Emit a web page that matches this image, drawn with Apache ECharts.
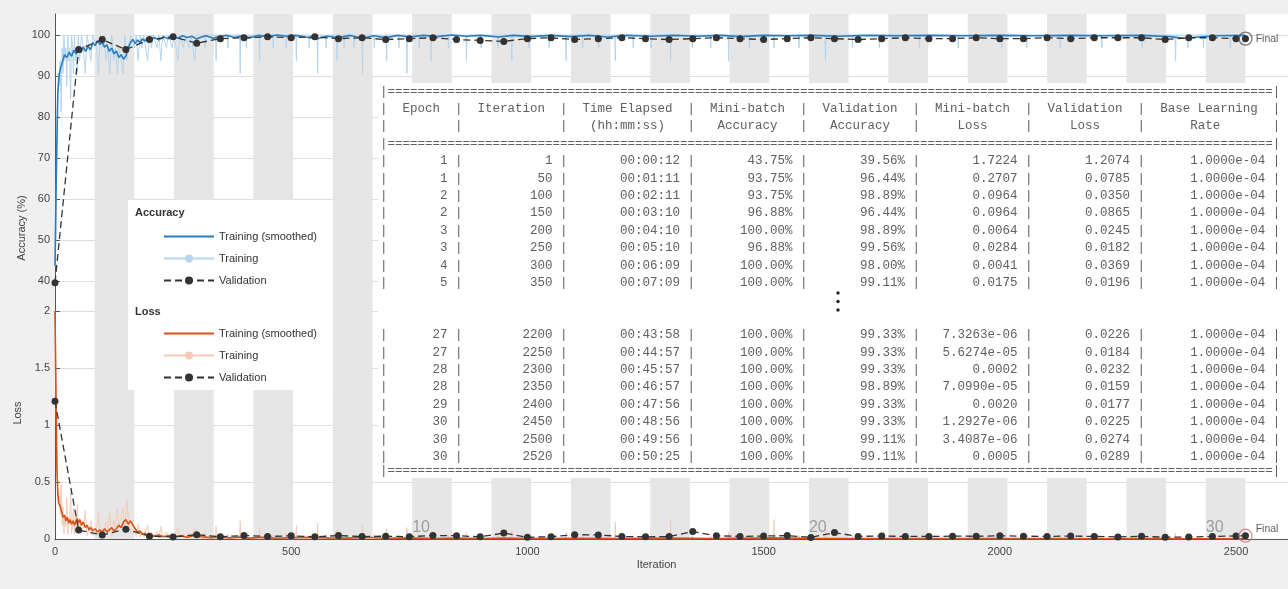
<!DOCTYPE html>
<html>
<head>
<meta charset="utf-8">
<title>Training Progress</title>
<script src="https://cdn.jsdelivr.net/npm/echarts@6/dist/echarts.min.js"></script>
<style>
  html, body { margin: 0; padding: 0; background: #f0f0f0; }
  #chart { width: 1288px; height: 589px; }
</style>
</head>
<body>
<div id="chart"></div>
<script>
// ---- data ----
const itersPerEpoch = 84;
const numEpochs = 30;
const epochLabels = [10, 20, 30];

// training accuracy / loss, dense part (first ~300 iterations)
const rawIterEarly = [1,3,5,7,9,11,13,15,17,19,21,23,25,27,29,31,33,35,37,39,41,43,45,47,49,
  52,56,60,64,68,72,76,80,84,88,92,96,100,104,108,112,116,120,124,128,132,136,140,144,148,152,156,160,
  164,168,172,176,180,184,188,192,196,200,204,208,212,216,220,224,228,232,236,240,244,248,252,256,260,
  264,268,272,276,280,284,288,292,296,300];
const accRawEarly = [43.75,62.5,81.25,90.63,87.5,93.75,81.25,96.88,90.63,100,93.75,96.88,87.5,100,93.75,96.88,84.38,100,96.88,90.63,100,93.75,96.88,90.63,100,
  93.75,100,96.88,90.63,100,96.88,93.75,100,100,96.88,
  90.63,100,96.88,100,93.75,96.88,90.63,100,93.75,96.88,
  90.63,96.88,93.75,90.63,100,93.75,96.88,100,100,96.88,
  100,93.75,100,96.88,100,100,93.75,100,96.88,100,
  100,96.88,100,93.75,100,100,96.88,100,100,96.88,
  100,100,93.75,100,100,96.88,100,100,96.88,100,
  100,93.75,100];
const lossRawEarly = [1.72,1.05,0.52,0.31,0.38,0.22,0.47,0.12,0.28,0.05,0.21,0.11,0.36,0.04,0.19,0.12,0.42,0.05,0.10,0.27,0.04,0.20,0.09,0.30,0.05,
  0.18,0.04,0.10,0.25,0.03,0.09,0.16,0.03,0.04,0.08,
  0.24,0.03,0.09,0.02,0.15,0.08,0.23,0.03,0.17,0.10,
  0.26,0.12,0.20,0.28,0.05,0.35,0.14,0.06,0.04,0.09,
  0.02,0.13,0.02,0.07,0.02,0.01,0.12,0.01,0.06,0.01,
  0.02,0.07,0.01,0.11,0.01,0.02,0.06,0.01,0.01,0.05,
  0.01,0.02,0.10,0.01,0.01,0.05,0.01,0.01,0.06,0.01,
  0.01,0.09,0.01];

// later iterations: isolated mini-batches that were not perfect
const dipIter = [318,341,366,392,405,433,462,489,511,538,556,574,597,612,633,651,676,702,728,745,
  771,796,833,871,902,938,967,1003,1046,1082,1117,1151,1186,1224,1262,1303,1349,1388,1426,1470,
  1522,1575,1631,1688,1745,1830,1912,2004,2057,2128,2216,2301,2372,2398,2431,2488];
const dipAcc = [96.88,93.75,96.88,90.63,96.88,93.75,96.88,96.88,93.75,96.88,90.63,96.88,93.75,96.88,96.88,90.63,96.88,93.75,96.88,90.63,
  96.88,93.75,96.88,93.75,96.88,96.88,93.75,96.88,96.88,93.75,96.88,96.88,93.75,96.88,96.88,93.75,96.88,96.88,93.75,96.88,
  96.88,96.88,93.75,96.88,96.88,96.88,96.88,96.88,96.88,96.88,96.88,96.88,93.75,96.88,96.88,96.88];
const dipLoss = [0.05,0.11,0.04,0.16,0.04,0.09,0.04,0.05,0.12,0.03,0.14,0.04,0.08,0.03,0.03,0.12,0.04,0.09,0.03,0.1,
  0.03,0.07,0.03,0.06,0.03,0.03,0.08,0.03,0.03,0.06,0.03,0.03,0.15,0.03,0.03,0.17,0.03,0.03,0.06,0.03,
  0.17,0.03,0.1,0.03,0.03,0.02,0.02,0.03,0.02,0.02,0.02,0.02,0.05,0.02,0.02,0.02];
const accPlateau = 100;
const lossPlateau = 0.004;
const lastIter = 2520;

// smoothed training curves
const accSmIter = [0,3,6,9,12,16,20,25,30,35,40,45,50,55,60,65,70,75,80,85,90,95,100,105,110,115,120,125,130,135,140,145,150,155,160,165,170,175,180,185,190,195,200,
  210,220,230,240,250,260,270,280,290,300,310,320,335,350,365,380,395,410,430,450,470,490,510,530,555,575,600,625,650,675,700,725,750,780,810,840,870,900,
  940,970,1010,1050,1090,1130,1170,1210,1260,1310,1360,1410,1450,1500,1550,1600,1660,1720,1780,1850,1920,2000,2070,2150,2220,2300,2360,2390,2420,2460,2520];
const accSmVal = [43.75,68,86,90.5,92,93.5,95.2,94.5,95.8,94.8,96.3,95.4,96.6,95.7,97.1,96,97.3,96.4,98.2,97.4,98.6,97.7,98.3,97,97.6,96,96.8,95.4,96.1,94.5,95.2,94.1,94.9,96.8,98.2,98.9,97.9,98.8,98.1,99.1,98.5,99.3,98.7,
  99.4,98.8,99.6,99.1,99.7,99.2,99.8,99.4,99.7,99.0,99.5,99.8,99.2,99.7,99.9,99.4,99.8,99.3,99.9,99.6,100,99.7,99.9,99.5,99.1,99.7,99.4,99.9,99.2,99.8,99.3,99.9,99.5,99.9,99.6,100,99.7,99.9,
  99.5,99.9,99.6,99.9,99.6,99.9,99.5,99.9,99.7,99.9,99.7,99.9,99.6,99.9,99.8,99.9,99.7,99.9,99.8,99.9,99.8,99.9,99.8,99.9,99.8,99.9,99.6,99.2,99.5,99.8,99.9];
const lossSmIter = [0,2,4,6,8,11,14,17,20,23,26,29,32,35,38,41,44,47,50,53,56,60,64,68,72,76,80,85,90,95,100,105,110,115,120,125,130,135,140,145,150,155,160,165,170,175,180,185,190,195,200,
  210,220,230,240,250,265,280,295,310,330,350,370,390,410,440,470,500,540,580,620,660,700,750,800,850,900,950,1000,1100,1200,1300,1400,1520,1600,1700,1800,1900,2000,2100,2200,2300,2400,2520];
const lossSmVal = [2.0,1.3,0.62,0.40,0.31,0.29,0.24,0.19,0.21,0.16,0.19,0.14,0.17,0.13,0.16,0.12,0.15,0.18,0.14,0.17,0.12,0.15,0.10,0.12,0.08,0.10,0.07,0.09,0.06,0.08,0.06,0.09,0.06,0.08,0.10,0.07,0.09,0.12,0.10,0.15,0.17,0.13,0.16,0.12,0.09,0.06,0.07,0.04,0.05,0.03,0.04,
  0.025,0.035,0.02,0.03,0.018,0.028,0.015,0.03,0.02,0.012,0.02,0.01,0.018,0.008,0.015,0.006,0.012,0.015,0.01,0.008,0.015,0.006,0.01,0.005,0.008,0.004,0.009,0.005,0.007,0.004,0.008,0.004,0.01,0.006,0.004,0.003,0.004,0.003,0.004,0.002,0.003,0.002,0.002];

// validation every 50 iterations plus the final one
const valIter = [0,50,100,150,200,250,300,350,400,450,500,550,600,650,700,750,800,850,900,950,1000,1050,1100,1150,1200,1250,
  1300,1350,1400,1450,1500,1550,1600,1650,1700,1750,1800,1850,1900,1950,2000,2050,2100,2150,2200,2250,2300,2350,2400,2450,2500,2520];
const valAcc = [39.56,96.44,98.89,96.44,98.89,99.56,98.00,99.11,99.33,99.56,99.33,99.56,99.11,99.33,98.89,99.11,99.33,98.89,98.67,98.44,99.11,99.33,98.89,99.11,99.33,99.11,
  98.89,99.11,99.33,99.11,98.89,99.11,99.33,99.11,98.89,99.11,99.33,99.11,99.11,99.33,99.11,99.11,99.33,99.11,99.33,99.33,99.33,98.89,99.33,99.33,99.11,99.11];
const valLoss = [1.2074,0.0785,0.0350,0.0865,0.0245,0.0182,0.0369,0.0196,0.0310,0.0220,0.0280,0.0190,0.0300,0.0210,0.0250,0.0200,0.0310,0.0290,0.0190,0.0520,0.0150,0.0200,0.0380,0.0360,0.0220,0.0190,
  0.0210,0.0650,0.0280,0.0230,0.0260,0.0300,0.0140,0.0560,0.0230,0.0260,0.0230,0.0220,0.0250,0.0240,0.0280,0.0250,0.0230,0.0260,0.0226,0.0184,0.0232,0.0159,0.0177,0.0225,0.0274,0.0289];

// command-window table
const tabEpoch = [1,1,2,2,3,3,4,5,27,27,28,28,29,30,30,30];
const tabIter = [1,50,100,150,200,250,300,350,2200,2250,2300,2350,2400,2450,2500,2520];
const tabTime = ['00:00:12','00:01:11','00:02:11','00:03:10','00:04:10','00:05:10','00:06:09','00:07:09',
  '00:43:58','00:44:57','00:45:57','00:46:57','00:47:56','00:48:56','00:49:56','00:50:25'];
const tabMbAcc = ['43.75%','93.75%','93.75%','96.88%','100.00%','96.88%','100.00%','100.00%',
  '100.00%','100.00%','100.00%','100.00%','100.00%','100.00%','100.00%','100.00%'];
const tabValAcc = ['39.56%','96.44%','98.89%','96.44%','98.89%','99.56%','98.00%','99.11%',
  '99.33%','99.33%','99.33%','98.89%','99.33%','99.33%','99.11%','99.11%'];
const tabMbLoss = ['1.7224','0.2707','0.0964','0.0964','0.0064','0.0284','0.0041','0.0175',
  '7.3263e-06','5.6274e-05','0.0002','7.0990e-05','0.0020','1.2927e-06','3.4087e-06','0.0005'];
const tabValLoss = ['1.2074','0.0785','0.0350','0.0865','0.0245','0.0182','0.0369','0.0196',
  '0.0226','0.0184','0.0232','0.0159','0.0177','0.0225','0.0274','0.0289'];
const tabLR = '1.0000e-04';
const tabHead1 = ['Epoch','Iteration','Time Elapsed','Mini-batch','Validation','Mini-batch','Validation','Base Learning'];
const tabHead2 = ['','','(hh:mm:ss)','Accuracy','Accuracy','Loss','Loss','Rate'];
const tabWidths = [9,13,16,14,14,14,14,17];

// ---- build ----
const font = 'Liberation Sans';
const zip = (xs, ys) => xs.map((x, i) => [x, ys[i]]);

function withDips(earlyIter, earlyVal, plateau, dips, vals) {
  const out = zip(earlyIter, earlyVal);
  dips.forEach((it, i) => {
    out.push([it - 1, plateau], [it, vals[i]], [it + 1, plateau]);
  });
  out.push([lastIter, plateau]);
  return out;
}
const accRawData = withDips(rawIterEarly, accRawEarly, accPlateau, dipIter, dipAcc);
const lossRawData = withDips(rawIterEarly, lossRawEarly, lossPlateau, dipIter, dipLoss);

const bandData = [];
for (let e = 2; e <= numEpochs; e += 2) {
  bandData.push([{ xAxis: (e - 1) * itersPerEpoch }, { xAxis: e * itersPerEpoch }]);
}

const center = (s, w) => {
  const l = Math.floor((w - s.length) / 2);
  return ' '.repeat(l) + s + ' '.repeat(w - s.length - l);
};
const border = '|' + '='.repeat(118) + '|';
const headLine = t => '|' + t.map((s, k) => center(s, tabWidths[k]) + '|').join('');
const rowLine = i => '|' + [tabEpoch[i], tabIter[i], tabTime[i], tabMbAcc[i], tabValAcc[i], tabMbLoss[i], tabValLoss[i], tabLR]
  .map((c, k) => String(c).padStart(tabWidths[k] - 1) + ' |').join('');
const tableLines = [border, headLine(tabHead1), headLine(tabHead2), border];
for (let i = 0; i < 8; i++) tableLines.push(rowLine(i));
tableLines.push('', '');
for (let i = 8; i < 16; i++) tableLines.push(rowLine(i));

const legendText = {
  accSmooth: 'Training (smoothed)', accRaw: 'Training', accVal: 'Validation',
  lossSmooth: 'Training (smoothed)', lossRaw: 'Training', lossVal: 'Validation'
};

const axisCol = '#555';
const labelStyle = { color: '#444', fontSize: 11, fontFamily: font };
const tableFont = '12.5px "Liberation Mono", monospace';

function legendFor(names, top) {
  return {
    // the smoothed curve has no marker, so hide the legend dot for it
    data: [{ name: names[0], itemStyle: { opacity: 0 } }, names[1], names[2]],
    orient: 'vertical', left: 163, top: top, padding: 0,
    itemWidth: 50, itemHeight: 10, itemGap: 11, selectedMode: false, z: 60,
    formatter: n => legendText[n],
    textStyle: { fontSize: 11, color: '#333', fontFamily: font }
  };
}

const chart = echarts.init(document.getElementById('chart'));
chart.setOption({
  animation: false,
  textStyle: { fontFamily: font },
  grid: [
    { left: 55, right: 0, top: 14, height: 273, show: true, backgroundColor: '#fff', borderWidth: 0 },
    { left: 55, right: 0, top: 287, height: 252, show: true, backgroundColor: '#fff', borderWidth: 0 }
  ],
  xAxis: [
    { gridIndex: 0, type: 'value', min: 0, max: 2610, show: false },
    {
      gridIndex: 1, type: 'value', min: 0, max: 2610, interval: 500,
      name: 'Iteration', nameLocation: 'middle', nameGap: 20,
      nameTextStyle: { color: '#444', fontSize: 11, padding: [0, 30, 0, 0] },
      axisLine: { lineStyle: { color: axisCol } },
      axisTick: { inside: true, length: 5, lineStyle: { color: axisCol } },
      axisLabel: Object.assign({ margin: 7, showMaxLabel: false, formatter: v => String(v) }, labelStyle),
      splitLine: { show: false }
    }
  ],
  yAxis: [
    {
      gridIndex: 0, type: 'value', min: 38.54, max: 105.12, splitNumber: 7,
      axisLine: { show: true, lineStyle: { color: axisCol } },
      axisTick: { show: true, inside: true, length: 5, lineStyle: { color: axisCol } },
      axisLabel: Object.assign({ margin: 5, showMinLabel: false, showMaxLabel: false }, labelStyle),
      splitLine: { show: true, showMinLine: false, showMaxLine: false, lineStyle: { color: '#dedede' } }
    },
    {
      gridIndex: 1, type: 'value', min: 0, max: 2.21, interval: 0.5,
      name: 'Loss', nameLocation: 'middle', nameGap: 22,
      nameTextStyle: { color: '#444', fontSize: 11 },
      axisLine: { show: true, lineStyle: { color: axisCol } },
      axisTick: { show: true, inside: true, length: 5, lineStyle: { color: axisCol } },
      axisLabel: Object.assign({ margin: 5, showMaxLabel: false }, labelStyle),
      splitLine: { show: true, showMinLine: false, showMaxLine: false, lineStyle: { color: '#dedede' } }
    }
  ],
  legend: [
    legendFor(['accSmooth', 'accRaw', 'accVal'], 231),
    legendFor(['lossSmooth', 'lossRaw', 'lossVal'], 328)
  ],
  graphic: [
    { type: 'rect', z: 50, silent: true, shape: { x: 128, y: 200, width: 205, height: 190 }, style: { fill: '#fff' } },
    { type: 'text', z: 61, x: 135, y: 213, style: { text: 'Accuracy', font: 'bold 11px ' + font, fill: '#333', verticalAlign: 'middle' } },
    { type: 'text', z: 61, x: 135, y: 312, style: { text: 'Loss', font: 'bold 11px ' + font, fill: '#333', verticalAlign: 'middle' } },
    { type: 'text', z: 61, x: 22, y: 228, rotation: Math.PI / 2,
      style: { text: 'Accuracy (%)', font: '11px ' + font, fill: '#444', align: 'center', verticalAlign: 'middle' } },
    { type: 'rect', z: 50, silent: true, shape: { x: 378, y: 83, width: 910, height: 395 }, style: { fill: '#fff' } },
    { type: 'text', z: 61, x: 380, y: 82.5,
      style: { text: tableLines.join('\n'), font: tableFont, lineHeight: 17.4, fill: '#606060', verticalAlign: 'top' } },
    { type: 'text', z: 61, x: 380, y: 471,
      style: { text: border, font: tableFont, fill: '#606060', verticalAlign: 'middle' } },
    { type: 'circle', z: 61, silent: true, shape: { cx: 838, cy: 293, r: 1.7 }, style: { fill: '#222' } },
    { type: 'circle', z: 61, silent: true, shape: { cx: 838, cy: 301.5, r: 1.7 }, style: { fill: '#222' } },
    { type: 'circle', z: 61, silent: true, shape: { cx: 838, cy: 310, r: 1.7 }, style: { fill: '#222' } }
  ],
  series: [
    { name: 'bandsAcc', type: 'line', xAxisIndex: 0, yAxisIndex: 0, data: [], z: 1, silent: true,
      markArea: { silent: true, itemStyle: { color: '#e6e6e6' }, data: bandData } },
    { name: 'bandsLoss', type: 'line', xAxisIndex: 1, yAxisIndex: 1, data: [], z: 1, silent: true,
      markArea: { silent: true, itemStyle: { color: '#e6e6e6' }, data: bandData } },
    { name: 'accRaw', type: 'line', xAxisIndex: 0, yAxisIndex: 0, data: accRawData, z: 2,
      symbol: 'circle', symbolSize: 8, showSymbol: false,
      lineStyle: { color: '#b5d5ee', width: 1 }, itemStyle: { color: '#b5d5ee' } },
    { name: 'accSmooth', type: 'line', xAxisIndex: 0, yAxisIndex: 0, data: zip(accSmIter, accSmVal), z: 3,
      symbol: 'none', lineStyle: { color: '#2a7cc0', width: 1.6 }, itemStyle: { color: '#2a7cc0' } },
    { name: 'accVal', type: 'line', xAxisIndex: 0, yAxisIndex: 0, data: zip(valIter, valAcc), z: 4,
      symbol: 'circle', symbolSize: 7,
      lineStyle: { color: '#333', width: 1.3, type: [7, 4] }, itemStyle: { color: '#333' } },
    { name: 'accFinal', type: 'scatter', xAxisIndex: 0, yAxisIndex: 0, z: 5,
      data: [[valIter[valIter.length - 1], valAcc[valAcc.length - 1]]], symbolSize: 13,
      itemStyle: { color: 'rgba(0,0,0,0)', borderColor: '#555', borderWidth: 1.3 },
      label: { show: true, formatter: 'Final', position: 'right', distance: 3, fontSize: 10.5, color: '#333' } },

    { name: 'lossRaw', type: 'line', xAxisIndex: 1, yAxisIndex: 1, data: lossRawData, z: 2,
      symbol: 'circle', symbolSize: 8, showSymbol: false,
      lineStyle: { color: '#f5cbb8', width: 1 }, itemStyle: { color: '#f5cbb8' } },
    { name: 'lossSmooth', type: 'line', xAxisIndex: 1, yAxisIndex: 1, data: zip(lossSmIter, lossSmVal), z: 3,
      symbol: 'none', lineStyle: { color: '#d95319', width: 1.6 }, itemStyle: { color: '#d95319' } },
    { name: 'lossVal', type: 'line', xAxisIndex: 1, yAxisIndex: 1, data: zip(valIter, valLoss), z: 4,
      symbol: 'circle', symbolSize: 7,
      lineStyle: { color: '#333', width: 1.3, type: [7, 4] }, itemStyle: { color: '#333' } },
    { name: 'lossFinal', type: 'scatter', xAxisIndex: 1, yAxisIndex: 1, z: 5,
      data: [[valIter[valIter.length - 1], valLoss[valLoss.length - 1]]], symbolSize: 13,
      itemStyle: { color: 'rgba(0,0,0,0)', borderColor: '#c9707a', borderWidth: 1.3 },
      label: { show: true, formatter: 'Final', position: 'right', distance: 3, offset: [0, -7], fontSize: 10.5, color: '#333' } },

    { name: 'epochs', type: 'scatter', xAxisIndex: 1, yAxisIndex: 1, z: 5, silent: true,
      data: epochLabels.map(e => [(e - 1) * itersPerEpoch, 0.03]), symbolSize: 0,
      label: { show: true, formatter: p => String(epochLabels[p.dataIndex]), position: 'right', distance: 0,
        verticalAlign: 'bottom', fontSize: 16, color: '#8c8c8c' } }
  ]
});
</script>
</body>
</html>
